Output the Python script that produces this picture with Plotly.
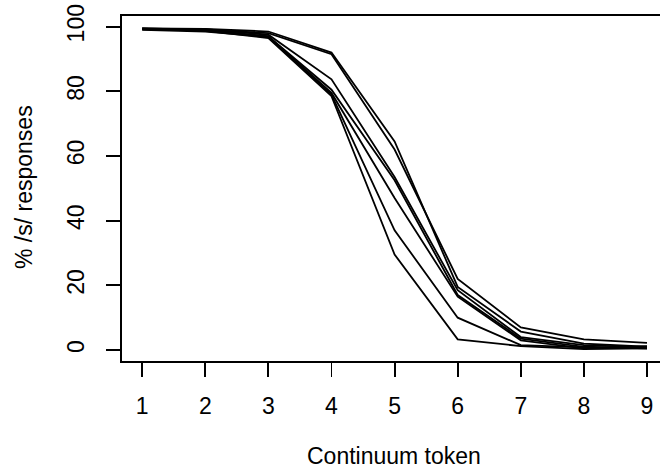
import plotly.graph_objects as go

tokens = [1, 2, 3, 4, 5, 6, 7, 8, 9]

series_a = [99.5, 99.3, 98.5, 92.0, 64.5, 19.5, 5.7, 2.0, 1.0]
series_b = [99.3, 99.0, 98.0, 91.5, 62.0, 22.0, 7.0, 3.3, 2.2]
series_c = [99.4, 99.2, 97.5, 83.7, 53.5, 18.5, 4.0, 1.5, 0.8]
series_d = [99.2, 98.8, 97.0, 80.5, 52.5, 17.0, 3.5, 1.0, 0.5]
series_e = [99.5, 99.0, 97.0, 79.5, 47.0, 16.5, 3.0, 0.5, 1.2]
series_f = [99.0, 98.5, 96.8, 79.0, 37.0, 10.0, 1.5, 0.8, 0.5]
series_g = [99.4, 98.7, 96.5, 78.5, 29.5, 3.3, 1.2, 0.3, 0.5]

all_series = [series_a, series_b, series_c, series_d, series_e, series_f, series_g]

y_ticks = [0, 20, 40, 60, 80, 100]
x_title = "Continuum token"
y_title = "% /s/ responses"

FONT = "Liberation Sans, Arial, sans-serif"
FS = 23

fig = go.Figure()
for s in all_series:
    fig.add_trace(go.Scatter(x=tokens, y=s, mode="lines",
                             line=dict(color="black", width=1.8),
                             showlegend=False, hoverinfo="skip"))

L, R, T, B = 122, 0, 16, 113
W, H = 660, 474
plot_w = W - L - R
plot_h = H - T - B

fig.update_layout(
    width=W, height=H,
    margin=dict(l=L, r=R, t=T, b=B, autoexpand=False),
    paper_bgcolor="white", plot_bgcolor="white",
    font=dict(family=FONT, size=FS, color="black"),
    xaxis=dict(range=[0.68, 9.206], tickvals=tokens, ticktext=[str(t) for t in tokens],
               ticks="outside", ticklen=14, tickwidth=1.8, tickcolor="black",
               showline=True, linewidth=1.8, linecolor="black", mirror=True,
               showgrid=False, zeroline=False, ticklabelstandoff=10,
               tickfont=dict(size=FS), automargin=False),
    yaxis=dict(range=[-3.4, 103.3], tickvals=y_ticks, ticktext=[str(t) for t in y_ticks],
               tickangle=-90,
               ticks="outside", ticklen=14, tickwidth=1.8, tickcolor="black",
               showline=True, linewidth=1.8, linecolor="black", mirror=False,
               showgrid=False, zeroline=False, ticklabelstandoff=13,
               tickfont=dict(size=FS), automargin=False),
)

fig.add_annotation(text=x_title, xref="paper", yref="paper",
                   x=(394 - L) / plot_w, y=(H - B - 456) / plot_h,
                   xanchor="center", yanchor="middle", showarrow=False,
                   font=dict(size=FS))
fig.add_annotation(text=y_title, xref="paper", yref="paper",
                   x=(24 - L) / plot_w, y=(H - B - 187) / plot_h,
                   xanchor="center", yanchor="middle", textangle=-90, showarrow=False,
                   font=dict(size=FS))

fig.write_html("out.html",
               config={"displayModeBar": False, "staticPlot": True},
               post_script="document.body.style.margin='0';document.body.style.overflow='hidden';")
